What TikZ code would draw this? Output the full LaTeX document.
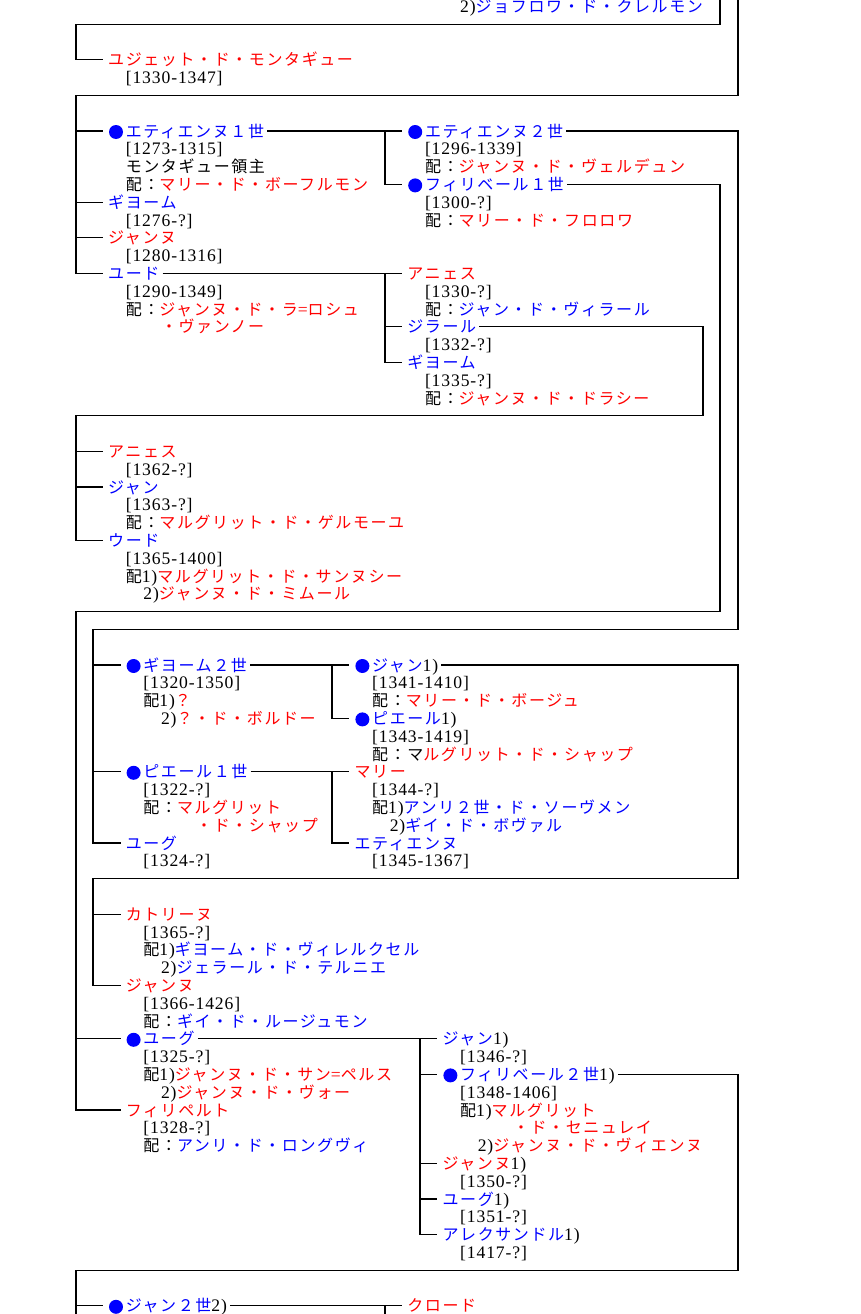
\documentclass[tikz,border=0pt]{standalone}
\usepackage{fontspec}
\setmainfont{Noto Sans CJK JP}[LetterSpace=10]
\newfontfamily\lat{Liberation Serif}[LetterSpace=5]
\newcommand\jas[1]{{\lat\fontsize{17.6}{18}\selectfont #1}}
\newcommand\jrd[1]{\textcolor{red}{#1}}
\newcommand\jbl[1]{\textcolor{blue}{#1}}
\newcommand\jtx[4]{\node[jt] (#1) at ({108+8.8*(#2)},{131+17.8*(#3)}) {#4};}
\newcommand\jdot[3]{\node[jdotst] (#1) at ({108+8.8*(#2)+8},{131+17.8*(#3)+1}) {};}
\newcommand\ry[1]{131+17.8*(#1)}
\begin{document}
\begin{tikzpicture}[x=1pt,y=-1pt,
  jt/.style={anchor=west,inner sep=0pt,text height=15.2pt,text depth=3pt,font=\fontsize{16}{18}\selectfont},
  jdotst/.style={circle,fill=blue,inner sep=0pt,minimum size=14pt},
  jline/.style={line width=1.1pt,black}]
\fill[white] (0,0) rectangle (860,1314);
\useasboundingbox (0,0) rectangle (860,1314);
\coordinate (L) at (76,0);
\coordinate (L2) at (93,0);
\coordinate (B385) at (385,0);
\coordinate (B332) at (332,0);
\coordinate (B420) at (420,0);
\coordinate (topA) at (720,-5);
\coordinate (topB) at (738,-5);
\coordinate (botL) at (76,1320);
\coordinate (botR) at (385,1320);

% ---------- section 0
\jtx{s0a}{40}{-7}{\jas{2)}\jbl{ジョフロワ・ド・クレルモン}}
\jtx{yj}{0}{-4}{\jrd{ユジェット・ド・モンタギュー}}
\jtx{yja}{2}{-3}{\jas{[1330-1347]}}

% ---------- section 1
\jdot{e1d}{0}{0}\jtx{e1}{2}{0}{\jbl{エティエンヌ１世}}
\jtx{e1a}{2}{1}{\jas{[1273-1315]}}
\jtx{e1b}{2}{2}{モンタギュー領主}
\jtx{e1c}{2}{3}{配：\jrd{マリー・ド・ボーフルモン}}
\jdot{e2d}{34}{0}\jtx{e2}{36}{0}{\jbl{エティエンヌ２世}}
\jtx{e2a}{36}{1}{\jas{[1296-1339]}}
\jtx{e2b}{36}{2}{配：\jrd{ジャンヌ・ド・ヴェルデュン}}
\jdot{f1d}{34}{3}\jtx{f1}{36}{3}{\jbl{フィリベール１世}}
\jtx{f1a}{36}{4}{\jas{[1300-?]}}
\jtx{f1b}{36}{5}{配：\jrd{マリー・ド・フロロワ}}
\jtx{g1}{0}{4}{\jbl{ギヨーム}}
\jtx{g1a}{2}{5}{\jas{[1276-?]}}
\jtx{j1}{0}{6}{\jrd{ジャンヌ}}
\jtx{j1a}{2}{7}{\jas{[1280-1316]}}
\jtx{u1}{0}{8}{\jbl{ユード}}
\jtx{u1a}{2}{9}{\jas{[1290-1349]}}
\jtx{u1b}{2}{10}{配：\jrd{ジャンヌ・ド・ラ\jas{=}ロシュ}}
\jtx{u1c}{6}{11}{\jrd{・ヴァンノー}}
\jtx{a1}{34}{8}{\jrd{アニェス}}
\jtx{a1a}{36}{9}{\jas{[1330-?]}}
\jtx{a1b}{36}{10}{配：\jbl{ジャン・ド・ヴィラール}}
\jtx{gi1}{34}{11}{\jbl{ジラール}}
\jtx{gi1a}{36}{12}{\jas{[1332-?]}}
\jtx{g2}{34}{13}{\jbl{ギヨーム}}
\jtx{g2a}{36}{14}{\jas{[1335-?]}}
\jtx{g2b}{36}{15}{配：\jrd{ジャンヌ・ド・ドラシー}}

% ---------- section 2
\jtx{an2}{0}{18}{\jrd{アニェス}}
\jtx{an2a}{2}{19}{\jas{[1362-?]}}
\jtx{jn2}{0}{20}{\jbl{ジャン}}
\jtx{jn2a}{2}{21}{\jas{[1363-?]}}
\jtx{jn2b}{2}{22}{配：\jrd{マルグリット・ド・ゲルモーユ}}
\jtx{wd}{0}{23}{\jbl{ウード}}
\jtx{wda}{2}{24}{\jas{[1365-1400]}}
\jtx{wdb}{2}{25}{配\jas{1)}\jrd{マルグリット・ド・サンヌシー}}
\jtx{wdc}{4}{26}{\jas{2)}\jrd{ジャンヌ・ド・ミムール}}

% ---------- section 3
\jdot{g3d}{2}{30}\jtx{g3}{4}{30}{\jbl{ギヨーム２世}}
\jtx{g3a}{4}{31}{\jas{[1320-1350]}}
\jtx{g3b}{4}{32}{配\jas{1)}\jrd{？}}
\jtx{g3c}{6}{33}{\jas{2)}\jrd{？・ド・ボルドー}}
\jdot{jn3d}{28}{30}\jtx{jn3}{30}{30}{\jbl{ジャン}\jas{1)}}
\jtx{jn3a}{30}{31}{\jas{[1341-1410]}}
\jtx{jn3b}{30}{32}{配：\jrd{マリー・ド・ボージュ}}
\jdot{pe3d}{28}{33}\jtx{pe3}{30}{33}{\jbl{ピエール}\jas{1)}}
\jtx{pe3a}{30}{34}{\jas{[1343-1419]}}
\jtx{pe3b}{30}{35}{配：マ\jrd{ルグリット・ド・シャップ}}
\jdot{p1d}{2}{36}\jtx{p1}{4}{36}{\jbl{ピエール１世}}
\jtx{p1a}{4}{37}{\jas{[1322-?]}}
\jtx{p1b}{4}{38}{配：\jrd{マルグリット}}
\jtx{p1c}{10}{39}{\jrd{・ド・シャップ}}
\jtx{ma3}{28}{36}{\jrd{マリー}}
\jtx{ma3a}{30}{37}{\jas{[1344-?]}}
\jtx{ma3b}{30}{38}{配\jas{1)}\jbl{アンリ２世・ド・ソーヴメン}}
\jtx{ma3c}{32}{39}{\jas{2)}\jbl{ギイ・ド・ボヴァル}}
\jtx{et3}{28}{40}{\jbl{エティエンヌ}}
\jtx{et3a}{30}{41}{\jas{[1345-1367]}}
\jtx{hu}{2}{40}{\jbl{ユーグ}}
\jtx{hua}{4}{41}{\jas{[1324-?]}}

% ---------- section 4
\jtx{ka4}{2}{44}{\jrd{カトリーヌ}}
\jtx{ka4a}{4}{45}{\jas{[1365-?]}}
\jtx{ka4b}{4}{46}{配\jas{1)}\jbl{ギヨーム・ド・ヴィレルクセル}}
\jtx{ka4c}{6}{47}{\jas{2)}\jbl{ジェラール・ド・テルニエ}}
\jtx{jn4}{2}{48}{\jrd{ジャンヌ}}
\jtx{jn4a}{4}{49}{\jas{[1366-1426]}}
\jtx{jn4b}{4}{50}{配：\jbl{ギイ・ド・ルージュモン}}

% ---------- section 5
\jdot{hu5d}{2}{51}\jtx{hu5}{4}{51}{\jbl{ユーグ}}
\jtx{hu5a}{4}{52}{\jas{[1325-?]}}
\jtx{hu5b}{4}{53}{配\jas{1)}\jrd{ジャンヌ・ド・サン\jas{=}ペルス}}
\jtx{hu5c}{6}{54}{\jas{2)}\jrd{ジャンヌ・ド・ヴォー}}
\jtx{fp}{2}{55}{\jrd{フィリペルト}}
\jtx{fpa}{4}{56}{\jas{[1328-?]}}
\jtx{fpb}{4}{57}{配：\jbl{アンリ・ド・ロングヴィ}}
\jtx{jn5}{38}{51}{\jbl{ジャン}\jas{1)}}
\jtx{jn5a}{40}{52}{\jas{[1346-?]}}
\jdot{fi5d}{38}{53}\jtx{fi5}{40}{53}{\jbl{フィリベール２世}\jas{1)}}
\jtx{fi5a}{40}{54}{\jas{[1348-1406]}}
\jtx{fi5b}{40}{55}{配\jas{1)}\jrd{マルグリット}}
\jtx{fi5c}{46}{56}{\jrd{・ド・セニュレイ}}
\jtx{fi5e}{42}{57}{\jas{2)}\jrd{ジャンヌ・ド・ヴィエンヌ}}
\jtx{jn6}{38}{58}{\jrd{ジャンヌ}\jas{1)}}
\jtx{jn6a}{40}{59}{\jas{[1350-?]}}
\jtx{hu6}{38}{60}{\jbl{ユーグ}\jas{1)}}
\jtx{hu6a}{40}{61}{\jas{[1351-?]}}
\jtx{al6}{38}{62}{\jbl{アレクサンドル}\jas{1)}}
\jtx{al6a}{40}{63}{\jas{[1417-?]}}

% ---------- section 6
\jdot{j7d}{0}{66}\jtx{j7}{2}{66}{\jbl{ジャン２世}\jas{2)}}
\jtx{cl7}{34}{66}{\jrd{クロード}}

% ---------- connectors
\begin{scope}[jline]
\draw (topA) |- (76,{\ry{-6}}) |- ([xshift=-5pt]yj.west);
\draw (topB) |- (76,{\ry{-2}}) |- ([xshift=-5pt]u1.west);
\draw (L |- e1.west) -- ([xshift=-22.6pt]e1.west);
\draw (L |- g1.west) -- ([xshift=-5pt]g1.west);
\draw (L |- j1.west) -- ([xshift=-5pt]j1.west);
\draw ([xshift=3pt]e1.east) -- ([xshift=-22.6pt]e2.west);
\draw (e2.west -| B385) |- ([xshift=-22.6pt]f1.west);
\draw ([xshift=3pt]u1.east) -- ([xshift=-5pt]a1.west);
\draw (a1.west -| B385) |- ([xshift=-5pt]g2.west);
\draw (gi1.west -| B385) -- ([xshift=-5pt]gi1.west);
\draw ([xshift=3pt]e2.east) -| (738,{\ry{28}}) -- (93,{\ry{28}}) |- ([xshift=-5pt]hu.west);
\draw ([xshift=3pt]f1.east) -| (720,{\ry{27}}) -- (76,{\ry{27}}) |- ([xshift=-5pt]fp.west);
\draw ([xshift=3pt]gi1.east) -| (703,{\ry{16}}) -- (76,{\ry{16}}) |- ([xshift=-5pt]wd.west);
\draw (L |- an2.west) -- ([xshift=-5pt]an2.west);
\draw (L |- jn2.west) -- ([xshift=-5pt]jn2.west);
\draw (L2 |- g3.west) -- ([xshift=-22.6pt]g3.west);
\draw (L2 |- p1.west) -- ([xshift=-22.6pt]p1.west);
\draw ([xshift=3pt]g3.east) -- ([xshift=-22.6pt]jn3.west);
\draw (jn3.west -| B332) |- ([xshift=-22.6pt]pe3.west);
\draw ([xshift=3pt]p1.east) -- ([xshift=-5pt]ma3.west);
\draw (ma3.west -| B332) |- ([xshift=-5pt]et3.west);
\draw ([xshift=3pt]jn3.east) -| (738,{\ry{42}}) -- (93,{\ry{42}}) |- ([xshift=-5pt]jn4.west);
\draw (L2 |- ka4.west) -- ([xshift=-5pt]ka4.west);
\draw (L |- hu5.west) -- ([xshift=-22.6pt]hu5.west);
\draw ([xshift=3pt]hu5.east) -- ([xshift=-5pt]jn5.west);
\draw (jn5.west -| B420) |- ([xshift=-5pt]al6.west);
\draw (B420 |- fi5.west) -- ([xshift=-22.6pt]fi5.west);
\draw (B420 |- jn6.west) -- ([xshift=-5pt]jn6.west);
\draw (B420 |- hu6.west) -- ([xshift=-5pt]hu6.west);
\draw ([xshift=3pt]fi5.east) -| (738,{\ry{64}}) -- (76,{\ry{64}}) -- (botL);
\draw (L |- j7.west) -- ([xshift=-22.6pt]j7.west);
\draw ([xshift=3pt]j7.east) -- ([xshift=-5pt]cl7.west);
\draw (cl7.west -| B385) -- (botR);
\end{scope}
\end{tikzpicture}
\end{document}
